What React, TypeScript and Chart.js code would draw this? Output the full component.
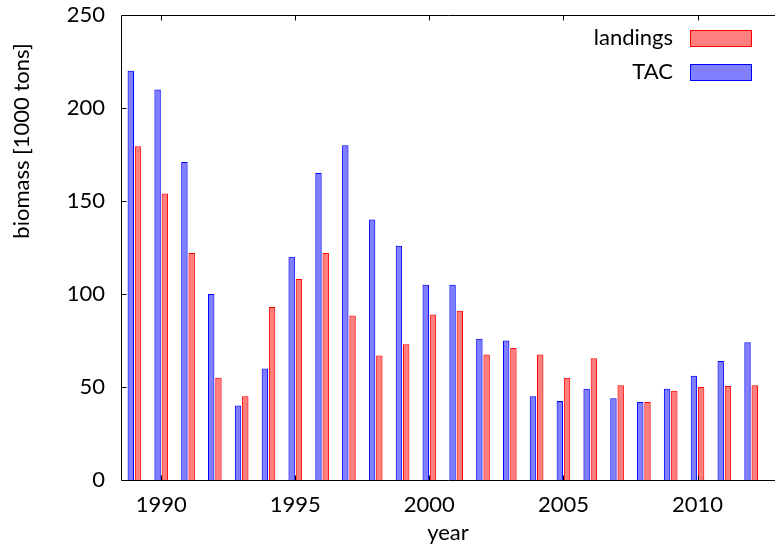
import { useEffect, useRef } from 'react';
import { Chart, registerables } from 'chart.js';

Chart.register(...registerables);

const years = [1989, 1990, 1991, 1992, 1993, 1994, 1995, 1996, 1997, 1998, 1999, 2000, 2001, 2002, 2003, 2004, 2005, 2006, 2007, 2008, 2009, 2010, 2011, 2012];
const tac = [220, 210, 171, 100, 40, 60, 120, 165, 180, 140, 126, 105, 105, 76, 75, 45, 42.5, 49, 44, 42, 49, 56, 64, 74];
const landings = [179.5, 154, 122, 55, 45, 93, 108, 122, 88.5, 67, 73, 89, 91, 67.5, 71, 67.5, 55, 65.5, 51, 42, 48, 50, 50.5, 51];
const xTicks = [1990, 1995, 2000, 2005, 2010];
const yTicks = [0, 50, 100, 150, 200, 250];

const FONT = 'Lato';
const FS = 22;

export default function App() {
  const ref = useRef<HTMLCanvasElement>(null);

  useEffect(() => {
    document.body.style.margin = '0';
    if (!ref.current) return;

    const decor = {
      id: 'decor',
      afterDatasetsDraw(chart: any) {
        const { ctx, chartArea: a, scales } = chart;
        const x = scales.x;
        const y = scales.y;
        ctx.save();
        ctx.strokeStyle = '#000';
        ctx.lineWidth = 1;
        const L = Math.round(a.left) + 0.5;
        const T = Math.round(a.top) + 0.5;
        const B = Math.round(a.bottom) + 0.5;
        const R = a.right + 2;
        ctx.beginPath();
        ctx.moveTo(R, T);
        ctx.lineTo(L, T);
        ctx.lineTo(L, B);
        ctx.lineTo(R, B);
        for (const v of yTicks) {
          const py = Math.round(y.getPixelForValue(v)) + 0.5;
          ctx.moveTo(L, py);
          ctx.lineTo(L + 5, py);
        }
        for (const v of xTicks) {
          const px = Math.round(x.getPixelForValue(v)) + 0.5;
          ctx.moveTo(px, T);
          ctx.lineTo(px, T + 5);
          ctx.moveTo(px, B);
          ctx.lineTo(px, B - 5);
        }
        ctx.stroke();

        // legend
        ctx.font = `${FS}px ${FONT}`;
        ctx.fillStyle = '#000';
        ctx.textAlign = 'right';
        ctx.textBaseline = 'middle';
        ctx.fillText('landings', 673, 38);
        ctx.fillText('TAC', 673, 72);
        ctx.fillStyle = 'rgba(255,0,0,0.5)';
        ctx.fillRect(690, 30, 62, 17);
        ctx.strokeStyle = '#ff0000';
        ctx.strokeRect(690.5, 30.5, 61, 16);
        ctx.fillStyle = 'rgba(0,0,255,0.5)';
        ctx.fillRect(690, 64, 62, 17);
        ctx.strokeStyle = '#0000ff';
        ctx.strokeRect(690.5, 64.5, 61, 16);

        // axis titles
        ctx.fillStyle = '#000';
        ctx.textAlign = 'center';
        ctx.fillText('year', (a.left + a.right) / 2, 533);
        ctx.translate(22, 141);
        ctx.rotate(-Math.PI / 2);
        ctx.fillText('biomass [1000 tons]', 0, 0);
        ctx.restore();
      },
    };

    const font = { family: FONT, size: FS };
    const chart = new Chart(ref.current, {
      type: 'bar',
      data: {
        datasets: [
          {
            label: 'TAC',
            data: years.map((yr, i) => ({ x: yr, y: tac[i] })),
            backgroundColor: 'rgba(0,0,255,0.5)',
            borderColor: '#0000ff',
            borderWidth: 1,
            borderSkipped: 'bottom',
            categoryPercentage: 0.54,
            barPercentage: 0.89,
          },
          {
            label: 'landings',
            data: years.map((yr, i) => ({ x: yr, y: landings[i] })),
            backgroundColor: 'rgba(255,0,0,0.5)',
            borderColor: '#ff0000',
            borderWidth: 1,
            borderSkipped: 'bottom',
            categoryPercentage: 0.54,
            barPercentage: 0.89,
          },
        ],
      } as any,
      options: {
        responsive: false,
        animation: false,
        devicePixelRatio: 1,
        layout: { padding: { top: 15, right: 0, left: 0, bottom: 0 } },
        plugins: { legend: { display: false }, tooltip: { enabled: false } },
        scales: {
          x: {
            type: 'linear',
            offset: false,
            min: 1988.5,
            max: 2012.89,
            grid: { display: false, offset: false },
            border: { display: false },
            afterBuildTicks: (s: any) => {
              s.ticks = xTicks.map((v) => ({ value: v }));
            },
            afterFit: (s: any) => {
              s.height = 66;
              s.paddingLeft = 0;
              s.paddingRight = 0;
              s.paddingTop = 0;
              s.paddingBottom = 0;
            },
            ticks: { font, color: '#000', padding: 4, maxRotation: 0, autoSkip: false, callback: (v: any) => String(v) },
          },
          y: {
            min: 0,
            max: 250,
            grid: { display: false },
            border: { display: false },
            afterBuildTicks: (s: any) => {
              s.ticks = yTicks.map((v) => ({ value: v }));
            },
            afterFit: (s: any) => {
              s.width = 121;
              s.paddingTop = 0;
              s.paddingBottom = 0;
              s.paddingLeft = 0;
              s.paddingRight = 0;
            },
            ticks: { font, color: '#000', padding: 8 },
          },
        },
      } as any,
      plugins: [decor],
    });
    return () => chart.destroy();
  }, []);

  return (
    <div style={{ position: 'absolute', left: 0, top: 0, width: 775, height: 546 }}>
      <canvas ref={ref} width={775} height={546} />
    </div>
  );
}
